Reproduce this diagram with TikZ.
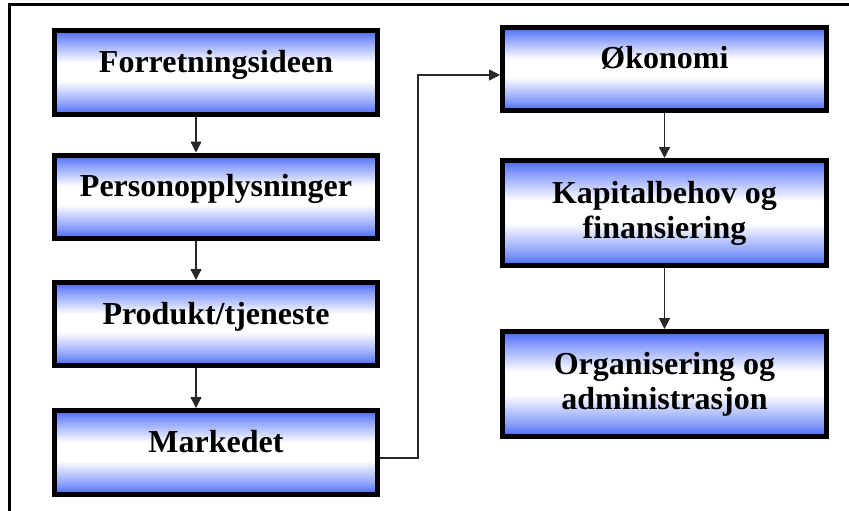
\documentclass[tikz,border=0pt]{standalone}
\usepackage{fontspec}
\setmainfont{Liberation Serif}
\usetikzlibrary{arrows.meta,shadows}

\definecolor{boxblue}{RGB}{72,104,248}
\definecolor{flowgray}{RGB}{40,40,40}

% blue at top and bottom, a broad white band in the middle
\pgfdeclareverticalshading{planshade}{100bp}{color(0bp)=(boxblue); color(25bp)=(boxblue);
    color(31bp)=(boxblue!65!white); color(45bp)=(white); color(56bp)=(white);
    color(69bp)=(boxblue!65!white); color(75bp)=(boxblue); color(100bp)=(boxblue)}

\tikzset{
    planbox/.style={draw=black, line width=5pt, shading=planshade,
        drop shadow={opacity=0.25, shadow xshift=1.5pt, shadow yshift=-1.5pt},
        inner sep=0pt, font=\bfseries\fontsize{32}{35}\selectfont},
    oneline/.style={planbox, text height=10pt, text depth=10pt},
    twoline/.style={planbox, align=center},
    flow/.style={draw=flowgray, line width=1.3pt, -{Triangle[length=11pt,width=11pt]}}
}

\begin{document}
\begin{tikzpicture}[x=1pt,y=-1pt]
    % Define dimensions
    \def\leftx{216}
    \def\rightx{664.5}
    \def\boxw{323}
    \useasboundingbox (0,0) rectangle (849,511);
    \fill[white] (0,0) rectangle (849,511);
    % Outer frame (cut by the page on the right and bottom)
    \draw[line width=3pt] (9,511) -- (9,5) -- (849,5);
    % Left column
    \node[oneline, minimum width=\boxw, minimum height=84] (idea) at (\leftx,72.5) {Forretningsideen};
    \node[oneline, minimum width=\boxw, minimum height=83] (person) at (\leftx,196.5) {Personopplysninger};
    \node[oneline, minimum width=\boxw, minimum height=83] (produkt) at (\leftx,324) {Produkt/tjeneste};
    \node[oneline, minimum width=\boxw, minimum height=84] (marked) at (\leftx,452.5) {Markedet};
    % Right column
    \node[oneline, minimum width=\boxw+1, minimum height=83] (okonomi) at (\rightx,69) {Økonomi};
    \node[twoline, minimum width=\boxw+1, minimum height=105] (kapital) at (\rightx,213) {Kapitalbehov og\\finansiering};
    \node[twoline, minimum width=\boxw+1, minimum height=105] (organ) at (\rightx,384) {Organisering og\\administrasjon};
    % Arrows down the left column
    \foreach \a/\b in {idea/person, person/produkt, produkt/marked}
        \draw[flow] ([xshift=-20pt]\a.south) -- ([xshift=-20pt]\b.north);
    % Arrows down the right column
    \foreach \a/\b in {okonomi/kapital, kapital/organ}
        \draw[flow] (\a.south) -- (\b.north);
    % From Markedet over to Økonomi
    \draw[flow] ([yshift=-5.5pt]marked.east) -- ++(38,0) |- ([yshift=-6pt]okonomi.west);
\end{tikzpicture}
\end{document}
